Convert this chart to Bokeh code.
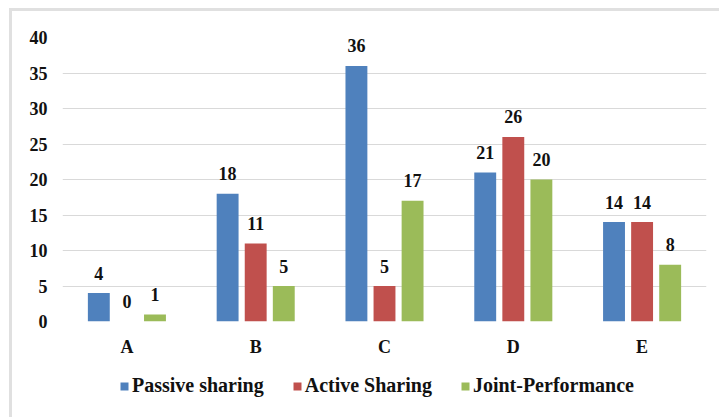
from bokeh.plotting import figure
from bokeh.layouts import column
from bokeh.models import ColumnDataSource, FactorRange, FixedTicker, Legend, LegendItem, Range1d
from bokeh.transform import dodge
from bokeh.core.properties import value
from bokeh.embed import file_html
from bokeh.resources import INLINE

categories = ["A", "B", "C", "D", "E"]
passive = [4, 18, 36, 21, 14]
active = [0, 11, 5, 26, 14]
joint = [1, 5, 17, 20, 8]
series_names = ["Passive sharing", "Active Sharing", "Joint-Performance"]
y_ticks = [0, 5, 10, 15, 20, 25, 30, 35, 40]
colors = ["#4F81BD", "#C0504D", "#9BBB59"]

FONT = "Liberation Serif"
TXT = "#111111"

src = ColumnDataSource(data=dict(
    cat=categories, passive=passive, active=active, joint=joint,
    passive_lbl=[str(v) for v in passive],
    active_lbl=[str(v) for v in active],
    joint_lbl=[str(v) for v in joint],
))

p = figure(x_range=FactorRange(*categories), y_range=(0, 40),
           width=707, height=355, output_backend="svg", toolbar_location=None,
           min_border_left=50, min_border_right=13, min_border_top=26, min_border_bottom=45)
p.outline_line_color = None
p.background_fill_color = "white"

step = 0.218
bw = 0.17
keys = ["passive", "active", "joint"]
offsets = [-step, 0, step]
for k, off, c in zip(keys, offsets, colors):
    p.vbar(x=dodge("cat", off, range=p.x_range), top=k, width=bw, source=src,
           fill_color=c, line_color=None)
    p.text(x=dodge("cat", off, range=p.x_range), y=k, text=k + "_lbl", source=src,
           text_align="center", text_baseline="alphabetic", y_offset=-20,
           text_font=value(FONT), text_font_style="bold", text_font_size="18px",
           text_color=TXT)

p.yaxis.ticker = FixedTicker(ticks=y_ticks)
p.ygrid.ticker = FixedTicker(ticks=y_ticks[:-1])
p.ygrid.grid_line_color = "#d9d9d9"
p.ygrid.grid_line_width = 1
p.xgrid.grid_line_color = None

for ax in (p.xaxis, p.yaxis):
    ax.axis_line_color = None
    ax.major_tick_line_color = None
    ax.minor_tick_line_color = None
    ax.major_label_text_font = FONT
    ax.major_label_text_font_style = "bold"
    ax.major_label_text_font_size = "18px"
    ax.major_label_text_color = TXT
p.yaxis.major_label_standoff = 9
p.xaxis.major_label_standoff = 9

# legend strip
p2 = figure(width=707, height=51, output_backend="svg", toolbar_location=None,
            x_range=Range1d(0, 1), y_range=Range1d(0, 1),
            min_border_left=0, min_border_right=0, min_border_top=0, min_border_bottom=0)
p2.axis.visible = False
p2.grid.visible = False
p2.outline_line_color = None
leg_src = ColumnDataSource(data=dict(x=[-10.0], top=[-10.0]))
leg_renderers = [p2.vbar(x="x", top="top", width=0.1, source=leg_src, fill_color=c, line_color=None)
                 for c in colors]
legend = Legend(items=[LegendItem(label=n, renderers=[r]) for n, r in zip(series_names, leg_renderers)],
                orientation="horizontal", location=(57, 20),
                label_text_font=FONT, label_text_font_style="bold", label_text_font_size="20px",
                label_text_color=TXT, glyph_width=10, glyph_height=10,
                spacing=28, label_standoff=3, border_line_color=None,
                background_fill_alpha=0, padding=0, margin=0)
p2.add_layout(legend)

layout = column(p, p2, spacing=0)
layout.margin = (8, 0, 0, 9)
layout.styles = {"border-top": "3px solid #e0e0e0", "border-left": "3px solid #e0e0e0"}

open("out.html", "w").write(file_html(layout, INLINE))
